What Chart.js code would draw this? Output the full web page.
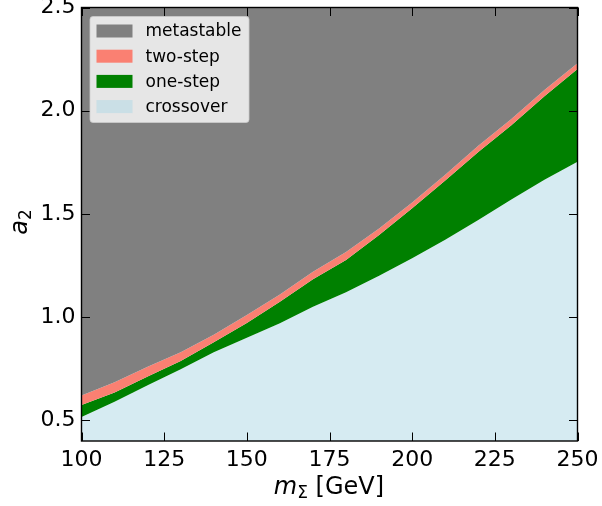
<!DOCTYPE html>
<html>
<head>
<meta charset="utf-8">
<script src="https://cdn.jsdelivr.net/npm/chart.js@4.4.1/dist/chart.umd.min.js"></script>
<style>
  html, body { margin: 0; padding: 0; background: #fff; }
</style>
</head>
<body>
<canvas id="chart" width="602" height="506"></canvas>
<script>
// m_Sigma grid (GeV) and the upper edge of each phase region in a_2
const mSigma = [100, 110, 120, 130, 140, 150, 160, 170, 180, 190, 200, 210, 220, 230, 240, 250];
const crossoverTop = [0.516, 0.59, 0.67, 0.747, 0.83, 0.90, 0.97, 1.05, 1.12, 1.20, 1.285, 1.375, 1.47, 1.57, 1.665, 1.753];
const oneStepTop = [0.574, 0.635, 0.712, 0.787, 0.878, 0.972, 1.075, 1.183, 1.277, 1.398, 1.527, 1.662, 1.80, 1.93, 2.07, 2.202];
const twoStepTop = [0.62, 0.685, 0.76, 0.83, 0.915, 1.01, 1.11, 1.22, 1.315, 1.43, 1.555, 1.69, 1.83, 1.96, 2.10, 2.23];

const phaseLabels = ["metastable", "two-step", "one-step", "crossover"];
const phaseColors = ["#808080", "#fa8072", "#008000", "rgba(173,216,230,0.5)"];

const xTicks = [100, 125, 150, 175, 200, 225, 250];
const yTicks = [0.5, 1.0, 1.5, 2.0, 2.5];

const FONT = "'DejaVu Sans', sans-serif";

function points(ys) {
  return mSigma.map((x, i) => ({ x: x, y: ys[i] }));
}

// draws text pieces (italic, subscripts) one after the other, centred on x
function drawParts(ctx, parts, x, y) {
  let total = 0;
  parts.forEach((p) => {
    ctx.font = p.font;
    total += ctx.measureText(p.text).width;
  });
  let cx = x - total / 2;
  parts.forEach((p) => {
    ctx.font = p.font;
    ctx.fillText(p.text, cx, y + (p.dy || 0));
    cx += ctx.measureText(p.text).width;
  });
}

function noPadding(s) {
  s.paddingTop = 0;
  s.paddingBottom = 0;
  s.paddingLeft = 0;
  s.paddingRight = 0;
}

const decorations = {
  id: "decorations",
  afterDatasetsDraw(chart) {
    const ctx = chart.ctx;
    const a = chart.chartArea;
    const xs = chart.scales.x;
    const ys = chart.scales.y;
    const tick = 8.5;

    ctx.save();
    ctx.strokeStyle = "#000";
    ctx.lineWidth = 1;
    ctx.beginPath();
    xTicks.forEach((v) => {
      const px = Math.round(xs.getPixelForValue(v)) + 0.5;
      ctx.moveTo(px, a.bottom); ctx.lineTo(px, a.bottom - tick);
      ctx.moveTo(px, a.top); ctx.lineTo(px, a.top + tick);
    });
    yTicks.forEach((v) => {
      const py = Math.round(ys.getPixelForValue(v)) + 0.5;
      ctx.moveTo(a.left, py); ctx.lineTo(a.left + tick, py);
      ctx.moveTo(a.right, py); ctx.lineTo(a.right - tick, py);
    });
    ctx.stroke();

    ctx.lineWidth = 1.4;
    ctx.strokeRect(a.left, a.top, a.right - a.left, a.bottom - a.top);

    // legend box in the upper left, matplotlib style
    const lx = 90, ly = 16.5, lw = 159, lh = 106;
    ctx.beginPath();
    ctx.roundRect(lx, ly, lw, lh, 3);
    ctx.fillStyle = "rgba(255,255,255,0.8)";
    ctx.fill();
    ctx.lineWidth = 1;
    ctx.strokeStyle = "rgba(204,204,204,0.8)";
    ctx.stroke();

    ctx.font = "17px " + FONT;
    ctx.textBaseline = "middle";
    ctx.textAlign = "left";
    chart.data.datasets.forEach((ds, i) => {
      const cy = 31 + i * 25.2;
      ctx.fillStyle = ds.backgroundColor;
      ctx.fillRect(96.5, cy - 6.5, 36, 13);
      ctx.fillStyle = "#000";
      ctx.fillText(ds.label, 145.5, cy + 1);
    });

    // axis titles
    ctx.fillStyle = "#000";
    ctx.textBaseline = "alphabetic";
    drawParts(ctx, [
      { text: "m", font: "italic 24px " + FONT },
      { text: "Σ", font: "17px " + FONT, dy: 4 },
      { text: " [GeV]", font: "24px " + FONT },
    ], 329, 493.5);

    ctx.translate(27, 222);
    ctx.rotate(-Math.PI / 2);
    drawParts(ctx, [
      { text: "a", font: "italic 24px " + FONT },
      { text: "2", font: "17px " + FONT, dy: 4 },
    ], 0, 0);
    ctx.restore();
  },
};

new Chart(document.getElementById("chart"), {
  type: "line",
  data: {
    datasets: [
      { label: phaseLabels[0], data: points(twoStepTop), backgroundColor: phaseColors[0], fill: "end" },
      { label: phaseLabels[1], data: points(twoStepTop), backgroundColor: phaseColors[1], fill: 2 },
      { label: phaseLabels[2], data: points(oneStepTop), backgroundColor: phaseColors[2], fill: 3 },
      { label: phaseLabels[3], data: points(crossoverTop), backgroundColor: phaseColors[3], fill: "start" },
    ],
  },
  options: {
    responsive: false,
    animation: false,
    layout: { padding: { top: 7.5, right: 24.5, left: 0, bottom: 0 } },
    elements: {
      point: { radius: 0 },
      line: { borderWidth: 0, tension: 0 },
    },
    plugins: {
      legend: { display: false },
      tooltip: { enabled: false },
    },
    scales: {
      x: {
        type: "linear",
        min: 100,
        max: 250,
        afterBuildTicks: (s) => { s.ticks = xTicks.map((v) => ({ value: v })); },
        afterFit: (s) => { s.height = 65; noPadding(s); },
        grid: { display: false, drawTicks: false },
        border: { display: false },
        ticks: { color: "#000", font: { family: FONT, size: 22 }, padding: 6, maxRotation: 0 },
      },
      y: {
        type: "linear",
        min: 0.4,
        max: 2.5,
        afterBuildTicks: (s) => { s.ticks = yTicks.map((v) => ({ value: v })); },
        afterFit: (s) => { s.width = 81.5; noPadding(s); },
        grid: { display: false, drawTicks: false },
        border: { display: false },
        ticks: { color: "#000", font: { family: FONT, size: 22 }, padding: 6, callback: (v) => v.toFixed(1) },
      },
    },
  },
  plugins: [decorations],
});
</script>
</body>
</html>
